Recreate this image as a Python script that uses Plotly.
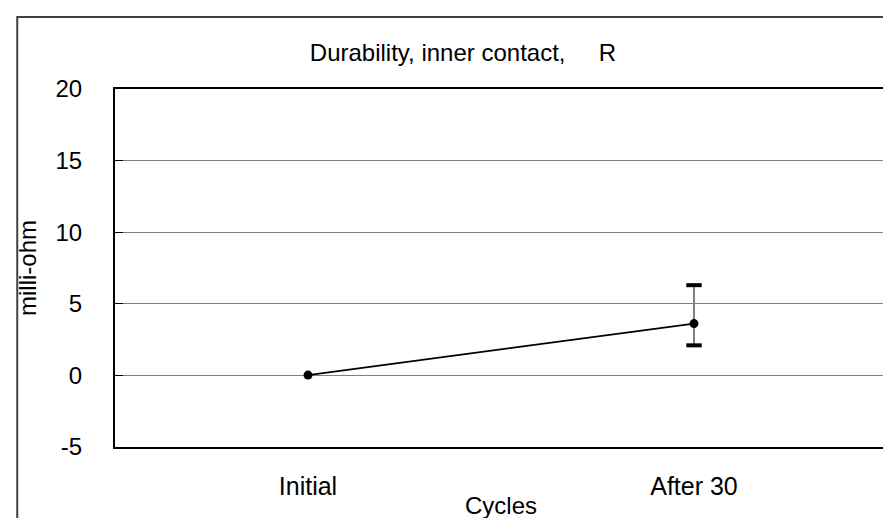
import plotly.graph_objects as go

# data
categories = ["Initial", "After 30"]
mean_vals = [0.02, 3.62]
err_plus = [0.0, 2.68]
err_minus = [0.0, 1.52]
y_ticks = [-5, 0, 5, 10, 15, 20]
y_labels = ["-5", "0", "5", "10", "15", "20"]

FONT = "Liberation Sans, Arial, sans-serif"

fig = go.Figure()

# mean line with min/max bars
fig.add_trace(go.Scatter(
    x=categories, y=mean_vals,
    mode="lines+markers",
    line=dict(color="black", width=1.75),
    marker=dict(color="black", size=9),
    error_y=dict(type="data", symmetric=False, array=err_plus, arrayminus=err_minus,
                 color="#808080", thickness=2, width=0),
    showlegend=False,
))

# heavy black caps on the bars
cap_x, cap_y = [], []
for c, m, p, n in zip(categories, mean_vals, err_plus, err_minus):
    if p > 0 or n > 0:
        cap_x += [c, c]
        cap_y += [m + p, m - n]
fig.add_trace(go.Scatter(
    x=cap_x, y=cap_y, mode="markers",
    marker=dict(symbol="line-ew", size=11, line=dict(color="black", width=4)),
    showlegend=False, hoverinfo="skip",
))

W, H = 891, 518
L, R, T, B = 107, 10, 81, 79
pw, ph = W - L - R, H - T - B

fig.update_layout(
    width=W, height=H,
    margin=dict(l=L, r=R, t=T, b=B),
    paper_bgcolor="white", plot_bgcolor="white",
    font=dict(family=FONT, size=24, color="black"),
    title=dict(text="Durability, inner contact,\u00a0\u00a0\u00a0\u00a0\u00a0R",
               x=455 / W, xanchor="center", y=1 - 45 / H, yanchor="middle",
               font=dict(size=24)),
    xaxis=dict(
        type="category", range=[-0.5, 1.5],
        showline=True, linecolor="black", linewidth=2, mirror=True,
        showgrid=False, ticks="", ticklabelstandoff=16,
        tickfont=dict(size=25),
    ),
    yaxis=dict(
        range=[-5, 20], tickvals=y_ticks, ticktext=y_labels,
        showline=True, linecolor="black", linewidth=2, mirror=True,
        showgrid=True, gridcolor="#808080", gridwidth=1,
        zeroline=True, zerolinecolor="#808080", zerolinewidth=1,
        ticks="inside", ticklen=8, tickcolor="black", tickwidth=1,
        ticklabelstandoff=26,
        title=dict(text="milli-ohm", standoff=12, font=dict(size=24)),
    ),
    annotations=[dict(text="Cycles", xref="paper", yref="paper",
                      x=0.5, y=(H - B - 497) / ph, xanchor="center", yanchor="middle",
                      showarrow=False, font=dict(size=24))],
    # outer chart-area frame (cut off at right and bottom)
    shapes=[dict(type="rect", xref="paper", yref="paper",
                 x0=(9 - L) / pw, x1=1.2, y0=-0.5, y1=(H - B - 9) / ph,
                 line=dict(color="#404040", width=2), layer="below")],
)

fig.write_html("out.html")
